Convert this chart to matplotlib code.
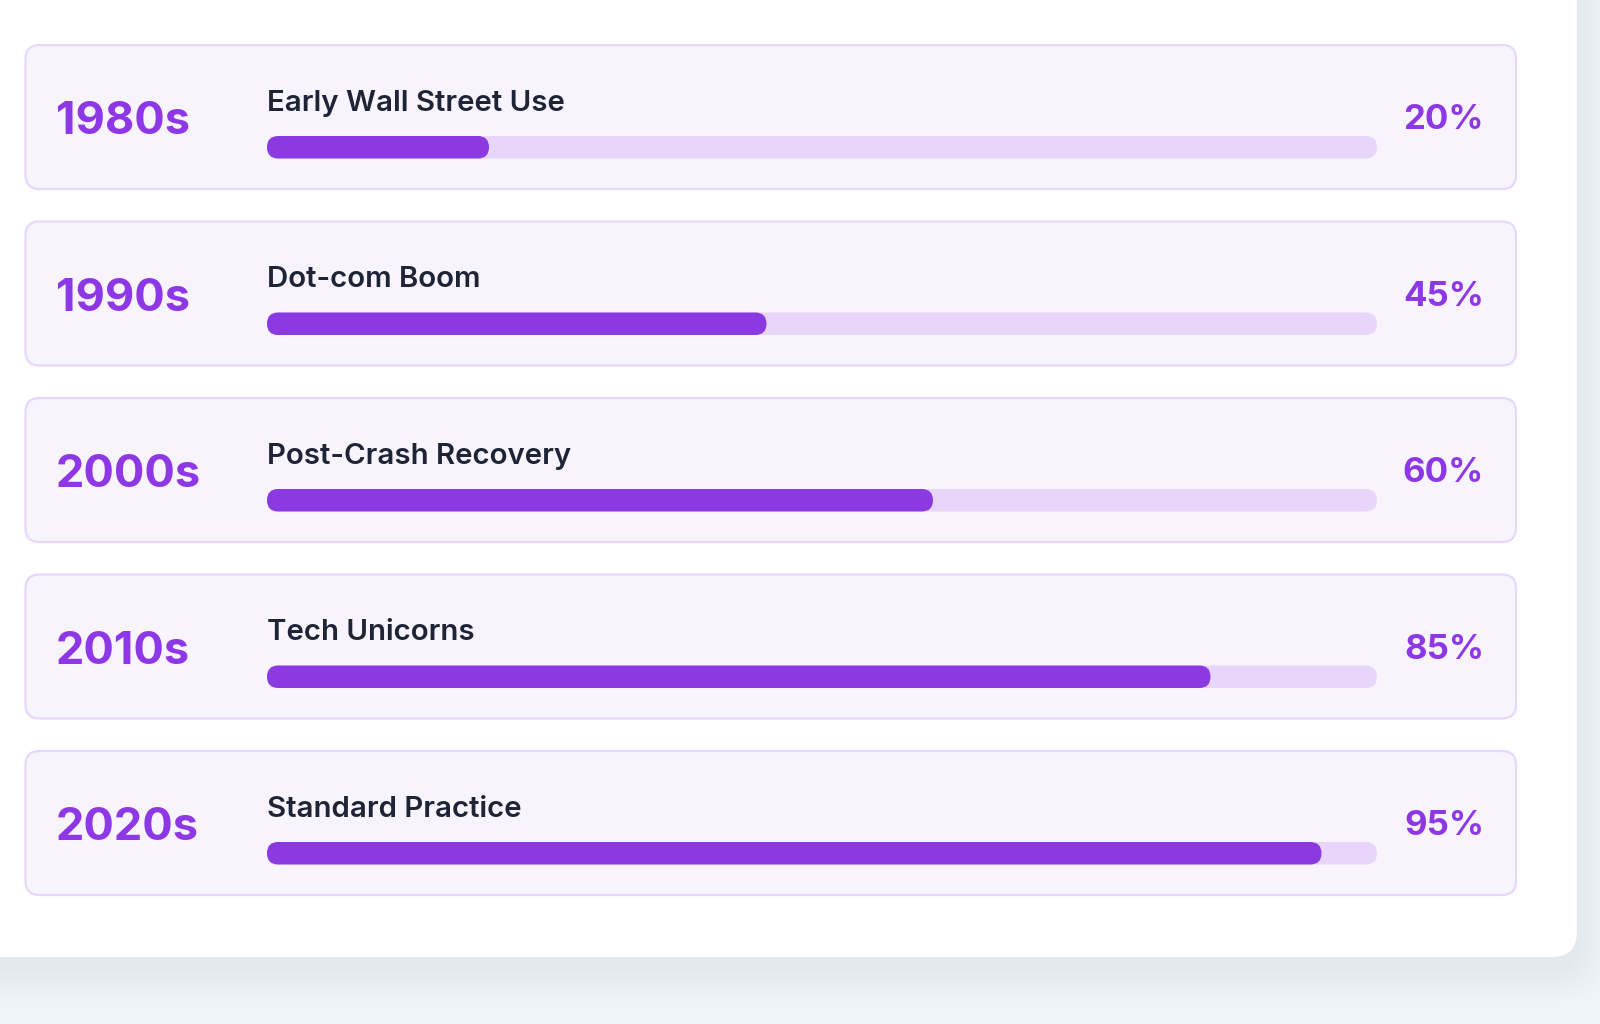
import matplotlib.pyplot as plt
from matplotlib.patches import FancyBboxPatch

# data
decades = ['1980s', '1990s', '2000s', '2010s', '2020s']
stages = ['Early Wall Street Use', 'Dot-com Boom', 'Post-Crash Recovery',
          'Tech Unicorns', 'Standard Practice']
adoption = [20, 45, 60, 85, 95]

# colours
page_bg = '#eff3fa'
row_bg = '#f8f4fe'
row_edge = '#e8d6fc'
track_col = '#e8d6fa'
fill_col = '#8a3ae0'
accent = '#8d37e6'
label_col = '#1e2436'

plt.rcParams['font.family'] = ['Inter', 'DejaVu Sans']

fig = plt.figure(figsize=(16, 10.24), dpi=100)
fig.patch.set_facecolor(page_bg)
ax = fig.add_axes([0, 0, 1, 1])
ax.set_xlim(0, 1600)
ax.set_ylim(1024, 0)
ax.axis('off')

# white panel with soft shadow
for i in range(12):
    g = i * 3
    ax.add_patch(FancyBboxPatch((-60 - g, -60 - g + 12), 1637 + 2 * g, 1017 + 2 * g,
                                boxstyle='round,pad=0,rounding_size=%d' % (25 + g),
                                fc='#334155', ec='none', alpha=0.004, zorder=1))
ax.add_patch(FancyBboxPatch((-60, -60), 1637, 1017,
                            boxstyle='round,pad=0,rounding_size=25',
                            fc='white', ec='none', zorder=2))

row_top0 = 45
pitch = 176.5
row_h = 144
bar_x0, bar_x1 = 267, 1377
bar_h = 22.5

for i, (dec, stage, val) in enumerate(zip(decades, stages, adoption)):
    top = row_top0 + i * pitch
    ax.add_patch(FancyBboxPatch((25.5, top), 1490.5, row_h,
                                boxstyle='round,pad=0,rounding_size=14',
                                fc=row_bg, ec=row_edge, lw=1.6, zorder=3))
    ax.text(56, top + 89.3, dec, fontsize=32.5, fontweight='bold', color=accent,
            ha='left', va='baseline', zorder=5)
    ax.text(267, top + 65.7, stage, fontsize=21.2, fontweight='semibold', color=label_col,
            ha='left', va='baseline', zorder=5)
    ax.text(1484, top + 84.3, f'{val}%', fontsize=25, fontweight='bold', color=accent,
            ha='right', va='baseline', zorder=5)
    by = top + 91
    ax.add_patch(FancyBboxPatch((bar_x0, by), bar_x1 - bar_x0, bar_h,
                                boxstyle='round,pad=0,rounding_size=%.2f' % (bar_h / 2),
                                fc=track_col, ec='none', zorder=4))
    ax.add_patch(FancyBboxPatch((bar_x0, by), (bar_x1 - bar_x0) * val / 100, bar_h,
                                boxstyle='round,pad=0,rounding_size=%.2f' % (bar_h / 2),
                                fc=fill_col, ec='none', zorder=4.5))

fig.savefig('out.png', dpi=100, facecolor=page_bg)
